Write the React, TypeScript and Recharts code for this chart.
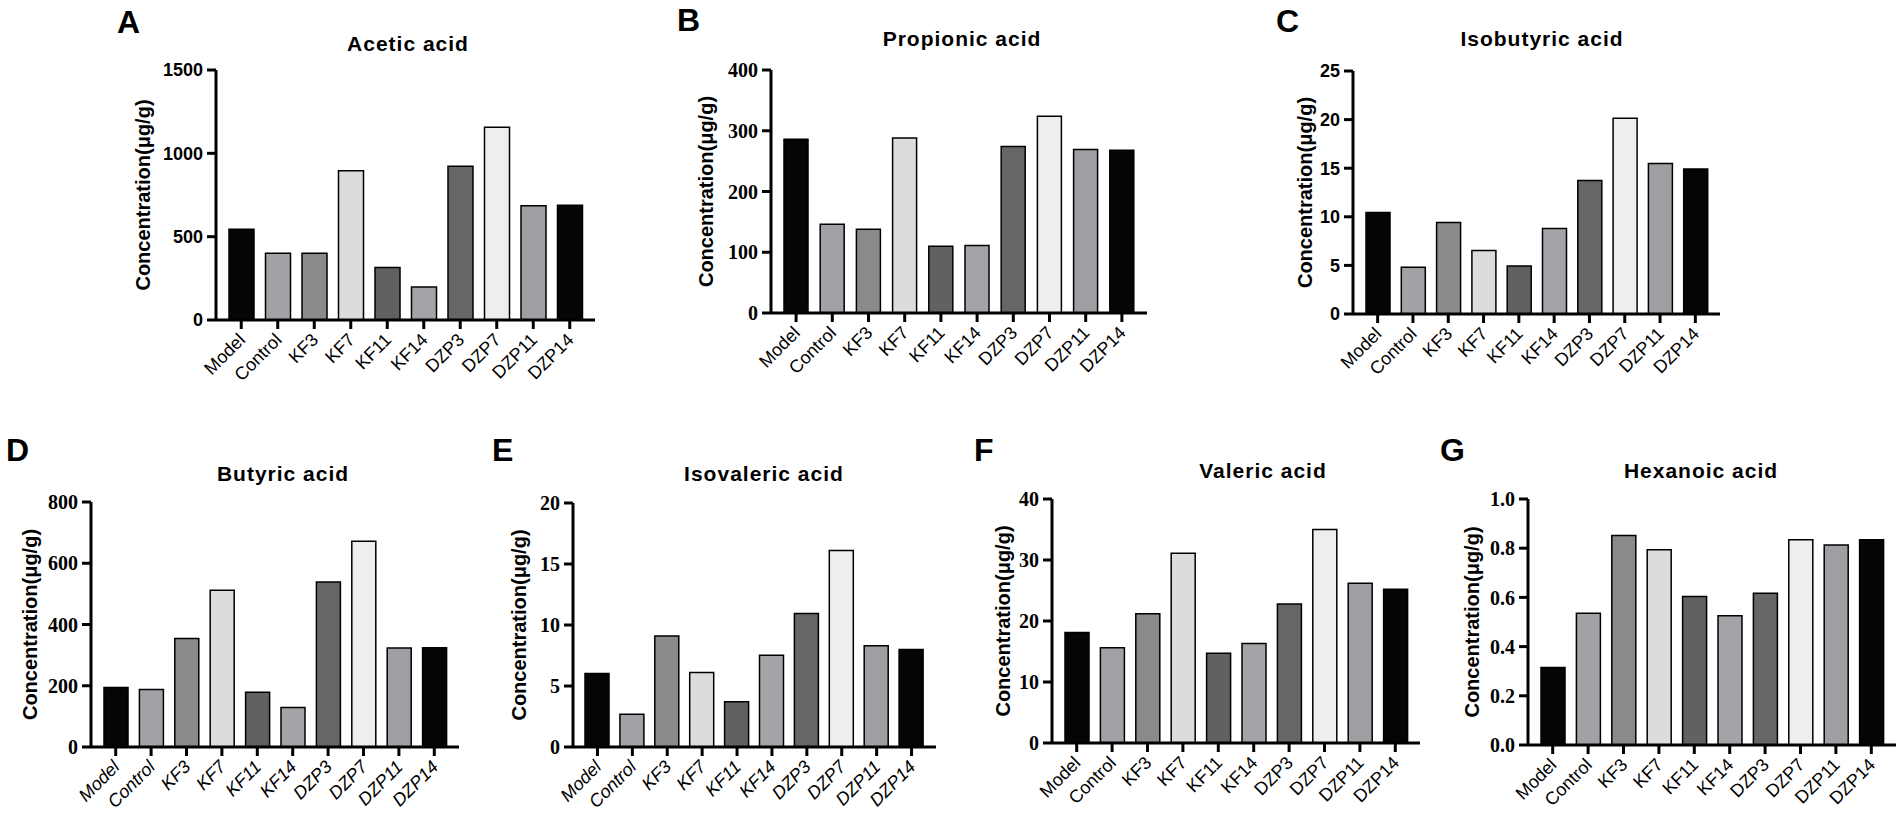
import React from 'react';
import { BarChart, Bar, XAxis, YAxis, Cell } from 'recharts';

// groups on the x axis, same order in every panel
const groups = ['Model', 'Control', 'KF3', 'KF7', 'KF11', 'KF14', 'DZP3', 'DZP7', 'DZP11', 'DZP14'];

// concentrations (µg/g)
const acetic = [545, 400, 400, 896, 315, 198, 922, 1157, 686, 688];
const propionic = [286, 146, 138, 288, 110, 111, 274, 324, 269, 268];
const isobutyric = [10.45, 4.8, 9.42, 6.54, 4.93, 8.8, 13.73, 20.14, 15.48, 14.93];
const butyric = [194, 188, 354, 512, 179, 129, 539, 672, 323, 324];
const isovaleric = [6.03, 2.68, 9.1, 6.1, 3.7, 7.53, 10.94, 16.1, 8.3, 8.0];
const valeric = [18.1, 15.6, 21.2, 31.1, 14.7, 16.3, 22.8, 35.0, 26.2, 25.2];
const hexanoic = [0.315, 0.536, 0.852, 0.794, 0.604, 0.525, 0.617, 0.834, 0.813, 0.834];

// y axis ticks
const aceticTicks = [0, 500, 1000, 1500];
const propionicTicks = [0, 100, 200, 300, 400];
const isobutyricTicks = [0, 5, 10, 15, 20, 25];
const butyricTicks = [0, 200, 400, 600, 800];
const isovalericTicks = [0, 5, 10, 15, 20];
const valericTicks = [0, 10, 20, 30, 40];
const hexanoicTicks = [0, 0.2, 0.4, 0.6, 0.8, 1.0];

const FILLS = ['#050505', '#a2a2a6', '#8a8a8a', '#dcdcdc', '#616161', '#a4a4a8', '#666666', '#eeeeee', '#9f9fa3', '#050505'];

const SANS = '"Liberation Sans", Arial, sans-serif';
const SERIF = '"Liberation Serif", "Times New Roman", serif';

const YW = 90;
const MT = 14;
const XH = 78;

type PanelDef = {
  letter: string;
  title: string;
  values: number[];
  ticks: number[];
  fmt?: (v: number) => string;
  axisX: number;
  top: number;
  bottom: number;
  right: number;
  letterX: number;
  letterY: number;
  titleX: number;
  titleY: number;
  labelX: number;
  tickFont: string;
  italic?: boolean;
  barSize: number;
};

const panels: PanelDef[] = [
  { letter: 'A', title: 'Acetic acid', values: acetic, ticks: aceticTicks, axisX: 216, top: 70, bottom: 320, right: 595, letterX: 117, letterY: 33, titleX: 408, titleY: 51, labelX: 143, tickFont: SANS, barSize: 25 },
  { letter: 'B', title: 'Propionic acid', values: propionic, ticks: propionicTicks, axisX: 771, top: 70, bottom: 313, right: 1147, letterX: 677, letterY: 31, titleX: 962, titleY: 46, labelX: 706, tickFont: SERIF, barSize: 24 },
  { letter: 'C', title: 'Isobutyric acid', values: isobutyric, ticks: isobutyricTicks, axisX: 1353, top: 71, bottom: 314, right: 1720, letterX: 1276, letterY: 32, titleX: 1542, titleY: 46, labelX: 1305, tickFont: SANS, barSize: 24 },
  { letter: 'D', title: 'Butyric acid', values: butyric, ticks: butyricTicks, axisX: 91, top: 502, bottom: 747, right: 459, letterX: 6, letterY: 461, titleX: 283, titleY: 481, labelX: 30, tickFont: SERIF, italic: true, barSize: 24 },
  { letter: 'E', title: 'Isovaleric acid', values: isovaleric, ticks: isovalericTicks, axisX: 573, top: 503, bottom: 747, right: 936, letterX: 492, letterY: 461, titleX: 764, titleY: 481, labelX: 519, tickFont: SERIF, italic: true, barSize: 24 },
  { letter: 'F', title: 'Valeric acid', values: valeric, ticks: valericTicks, axisX: 1052, top: 499, bottom: 743, right: 1420, letterX: 974, letterY: 461, titleX: 1263, titleY: 478, labelX: 1003, tickFont: SERIF, barSize: 24 },
  { letter: 'G', title: 'Hexanoic acid', values: hexanoic, ticks: hexanoicTicks, fmt: (v) => v.toFixed(1), axisX: 1528, top: 499, bottom: 745, right: 1896, letterX: 1440, letterY: 461, titleX: 1701, titleY: 478, labelX: 1472, tickFont: SERIF, barSize: 24 },
];

function renderXTick(props: any, italic?: boolean) {
  const { x, y, payload } = props;
  return (
    <text
      transform={`translate(${x + 5},${y + 10}) rotate(-45)`}
      textAnchor="end"
      fontFamily={SANS}
      fontSize={18}
      fontStyle={italic ? 'italic' : 'normal'}
      fill="#000"
    >
      {payload.value}
    </text>
  );
}

function Panel({ p }: { p: PanelDef }) {
  const data = groups.map((g, i) => ({ group: g, value: p.values[i] }));
  const plotW = p.right - p.axisX;
  const plotH = p.bottom - p.top;
  const maxTick = p.ticks[p.ticks.length - 1];
  return (
    <div style={{ position: 'absolute', left: p.axisX - YW, top: p.top - MT }}>
      <BarChart
        width={YW + plotW}
        height={MT + plotH + XH}
        data={data}
        margin={{ top: MT, right: 0, bottom: 0, left: 0 }}
        barSize={p.barSize}
      >
        <XAxis
          dataKey="group"
          interval={0}
          height={XH}
          padding={{ left: 7, right: 7 }}
          axisLine={{ stroke: '#000', strokeWidth: 3 }}
          tickLine={{ stroke: '#000', strokeWidth: 3 }}
          tickSize={9}
          tick={(props: any) => renderXTick(props, p.italic)}
        />
        <YAxis
          width={YW}
          domain={[0, maxTick]}
          ticks={p.ticks}
          interval={0}
          axisLine={{ stroke: '#000', strokeWidth: 3 }}
          tickLine={{ stroke: '#000', strokeWidth: 3 }}
          tickSize={9}
          tickMargin={4}
          tickFormatter={(v: number) => (p.fmt ? p.fmt(v) : String(v))}
          tick={{ fill: '#000', fontSize: p.tickFont === SERIF ? 20 : 18, fontWeight: 700, fontFamily: p.tickFont }}
        />
        <Bar dataKey="value" isAnimationActive={false} stroke="#000" strokeWidth={1.5}>
          {data.map((d, i) => (
            <Cell key={d.group} fill={FILLS[i]} />
          ))}
        </Bar>
      </BarChart>
    </div>
  );
}

export default function App() {
  return (
    <div style={{ position: 'absolute', left: 0, top: 0, width: 1902, height: 824, overflow: 'hidden', background: '#fff' }}>
      {panels.map((p) => (
        <Panel key={p.letter} p={p} />
      ))}
      <svg width={1902} height={824} style={{ position: 'absolute', left: 0, top: 0, pointerEvents: 'none' }}>
        {panels.map((p) => (
          <g key={p.letter}>
            <text x={p.letterX} y={p.letterY} fontFamily={SANS} fontWeight={700} fontSize={32} fill="#000">
              {p.letter}
            </text>
            <text x={p.titleX} y={p.titleY} textAnchor="middle" fontFamily={SANS} fontWeight={700} fontSize={21} letterSpacing={1} fill="#000">
              {p.title}
            </text>
            <text
              transform={`translate(${p.labelX},${(p.top + p.bottom) / 2}) rotate(-90)`}
              textAnchor="middle"
              dominantBaseline="central"
              fontFamily={SANS}
              fontWeight={700}
              fontSize={20}
              fill="#000"
            >
              Concentration(μg/g)
            </text>
          </g>
        ))}
      </svg>
    </div>
  );
}
